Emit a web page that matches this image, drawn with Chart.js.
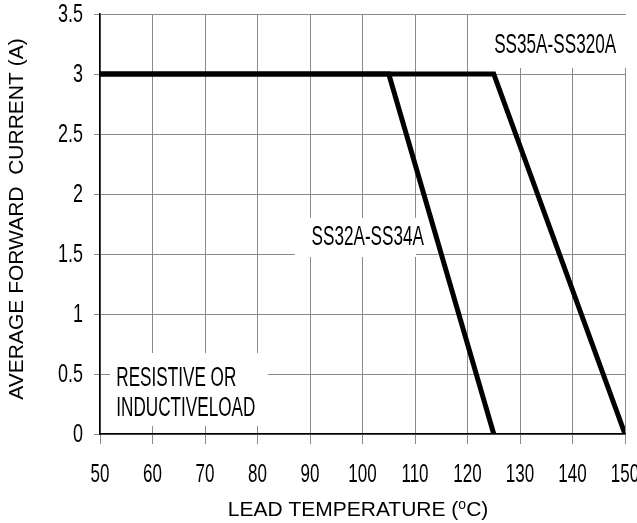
<!DOCTYPE html>
<html>
<head>
<meta charset="utf-8">
<script src="https://cdn.jsdelivr.net/npm/chart.js@4.4.0/dist/chart.umd.min.js"></script>
<style>
  html, body { margin: 0; padding: 0; background: #fff; }
  #wrap { width: 637px; height: 523px; }
</style>
</head>
<body>
<div id="wrap"><canvas id="myChart" width="637" height="523"></canvas></div>
<script>
// curve data
var ss32Temp = [50, 105, 125];
var ss32Curr = [3, 3, 0];
var ss35Temp = [50, 125, 150];
var ss35Curr = [3, 3, 0];

var xTicks = [50, 60, 70, 80, 90, 100, 110, 120, 130, 140, 150];
var yTicks = [0, 0.5, 1, 1.5, 2, 2.5, 3, 3.5];

var fam = "'Liberation Sans', Arial, sans-serif";

function pts(xs, ys) {
	var out = [];
	for (var i = 0; i < xs.length; i++) out.push({x: xs[i], y: ys[i]});
	return out;
}

// draw condensed text (the original uses a tall, narrow face)
function narrowText(ctx, s, x, y, align, sq) {
	ctx.save();
	ctx.translate(x, y);
	ctx.scale(sq, 1);
	ctx.textAlign = align;
	ctx.fillText(s, 0, 0);
	ctx.restore();
}

// white label boxes (in data units) drawn over the grid
var labelBoxes = [
	{x0: 87.1, x1: 110.2, y0: 1.475, y1: 1.81, lines: ['SS32A-SS34A'], tx: 101.0, ty: [1.64], align: 'center'},
	{x0: 121.4, x1: 152, y0: 3.05, y1: 3.5, lines: ['SS35A-SS320A'], tx: 136.7, ty: [3.24], align: 'center'},
	{x0: 51.9, x1: 82, y0: 0.067, y1: 0.683, lines: ['RESISTIVE OR', 'INDUCTIVELOAD'], tx: 53.1, ty: [0.46, 0.215], align: 'left'}
];

var boxPlugin = {
	id: 'boxes',
	beforeDatasetsDraw: function(chart) {
		var ctx = chart.ctx, xs = chart.scales.x, ys = chart.scales.y;
		ctx.save();
		labelBoxes.forEach(function(b) {
			var l = xs.getPixelForValue(b.x0), r = xs.getPixelForValue(b.x1);
			var t = ys.getPixelForValue(b.y1), bt = ys.getPixelForValue(b.y0);
			ctx.fillStyle = '#fff';
			ctx.fillRect(l, t + 1, r - l, bt - t - 1);
			ctx.fillStyle = '#000';
			ctx.font = '27px ' + fam;
			ctx.textBaseline = 'middle';
			b.lines.forEach(function(s, i) {
				narrowText(ctx, s, xs.getPixelForValue(b.tx), ys.getPixelForValue(b.ty[i]), b.align, 0.635);
			});
		});
		ctx.restore();
	},
	afterDraw: function(chart) {
		var ctx = chart.ctx, xs = chart.scales.x, ys = chart.scales.y;
		ctx.save();
		ctx.fillStyle = '#000';
		ctx.textBaseline = 'middle';
		// tick labels
		ctx.font = '25px ' + fam;
		xTicks.forEach(function(v) {
			narrowText(ctx, String(v), xs.getPixelForValue(v), 475, 'center', 0.68);
		});
		yTicks.forEach(function(v) {
			narrowText(ctx, String(v), 83, ys.getPixelForValue(v) + 1, 'right', 0.72);
		});
		// x title with superscript o
		var a = 'LEAD TEMPERATURE (', b = 'C)';
		ctx.font = '21px ' + fam;
		var wa = ctx.measureText(a).width, wb = ctx.measureText(b).width;
		ctx.font = '14px ' + fam;
		var wo = ctx.measureText('o').width;
		var sx = 358 - (wa + wo + wb) / 2;
		var ty = 510;
		ctx.textAlign = 'left';
		ctx.font = '21px ' + fam;
		ctx.fillText(a, sx, ty);
		ctx.font = '14px ' + fam;
		ctx.fillText('o', sx + wa, ty - 5);
		ctx.font = '21px ' + fam;
		ctx.fillText(b, sx + wa + wo, ty);
		// y title
		ctx.translate(17, 219);
		ctx.rotate(-Math.PI / 2);
		ctx.textAlign = 'center';
		ctx.font = '21px ' + fam;
		ctx.fillText('AVERAGE FORWARD  CURRENT (A)', 0, 0);
		ctx.restore();
	}
};

new Chart('myChart', {
	type: 'scatter',
	data: {
		datasets: [{
			label: 'SS32A-SS34A',
			data: pts(ss32Temp, ss32Curr),
			showLine: true,
			borderColor: '#000',
			borderWidth: 5,
			pointRadius: 0,
			tension: 0
		}, {
			label: 'SS35A-SS320A',
			data: pts(ss35Temp, ss35Curr),
			showLine: true,
			borderColor: '#000',
			borderWidth: 5,
			pointRadius: 0,
			tension: 0
		}]
	},
	options: {
		responsive: false,
		animation: false,
		layout: { padding: { top: 14, right: 12, left: 0, bottom: 0 } },
		plugins: {
			legend: { display: false },
			tooltip: { enabled: false }
		},
		scales: {
			x: {
				type: 'linear',
				min: 50, max: 150,
				afterBuildTicks: function(s) { s.ticks = xTicks.map(function(v){ return {value: v}; }); },
				afterFit: function(s) { s.height = 89; s.paddingLeft = 0; s.paddingRight = 0; },
				grid: { color: '#8a8a8a', lineWidth: 1, tickLength: 10, tickColor: '#8a8a8a' },
				border: { color: '#000', width: 1.5 },
				ticks: { display: false }
			},
			y: {
				type: 'linear',
				min: 0, max: 3.5,
				afterBuildTicks: function(s) { s.ticks = yTicks.map(function(v){ return {value: v}; }); },
				afterFit: function(s) { s.width = 100; s.paddingTop = 0; s.paddingBottom = 0; },
				grid: { color: '#8a8a8a', lineWidth: 1, tickLength: 6, tickColor: '#8a8a8a' },
				border: { color: '#000', width: 1.5 },
				ticks: { display: false }
			}
		}
	},
	plugins: [boxPlugin]
});
</script>
</body>
</html>
